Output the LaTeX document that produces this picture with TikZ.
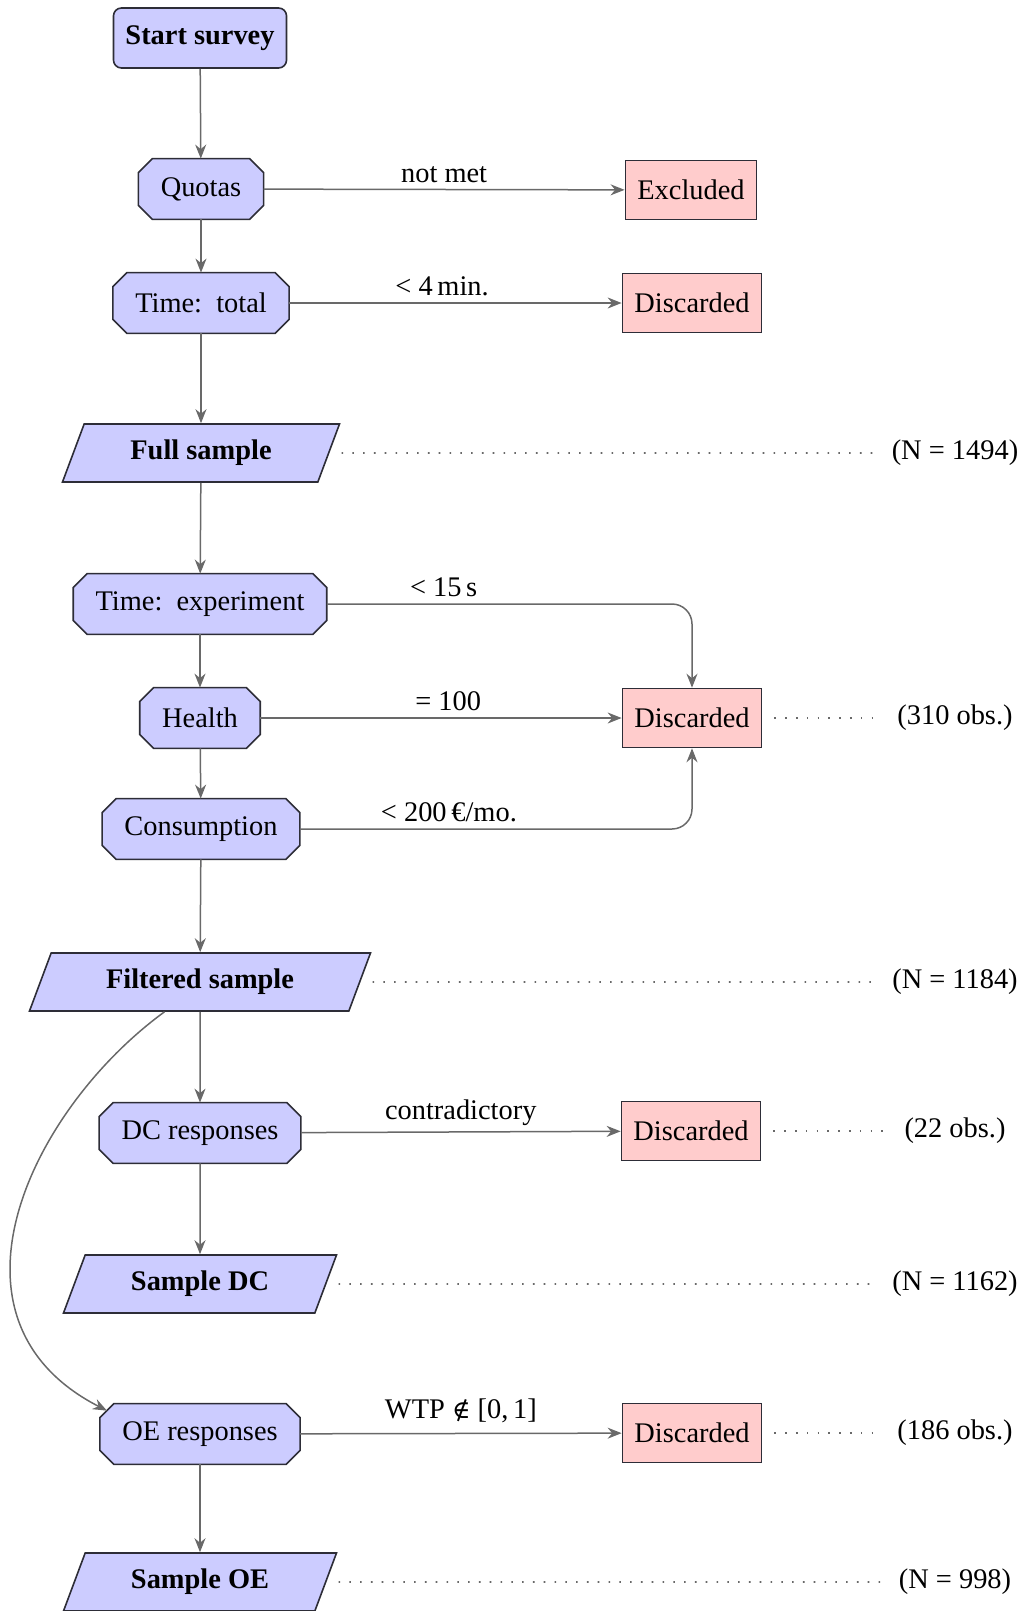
\documentclass[tikz,border=0pt]{standalone}
\usepackage{fontspec}
\setmainfont{Liberation Serif}
\newfontfamily\symfnt{DejaVu Serif}
\usetikzlibrary{shapes.geometric,arrows.meta,backgrounds}
\definecolor{boxblue}{RGB}{204,204,255}
\definecolor{boxred}{RGB}{255,204,204}
\definecolor{edgegray}{RGB}{105,105,105}
\definecolor{rimgray}{RGB}{45,45,55}
\newcommand\octbox[1]{%
  \path[octshape] ([xshift=7pt]#1.north west) -- ([xshift=-7pt]#1.north east)
    -- ([yshift=-7pt]#1.north east) -- ([yshift=7pt]#1.south east)
    -- ([xshift=-7pt]#1.south east) -- ([xshift=7pt]#1.south west)
    -- ([yshift=7pt]#1.south west) -- ([yshift=-7pt]#1.north west) -- cycle;}
\begin{document}
\begin{tikzpicture}[x=0.5pt,y=-0.5pt,
  font=\fontsize{14.2}{17}\selectfont,
  startbox/.style={rectangle, rounded corners=4pt, draw=rimgray, line width=0.8pt, fill=boxblue,
    minimum height=30pt, inner xsep=6pt, font=\fontsize{14.2}{17}\selectfont\bfseries},
  testbox/.style={rectangle, minimum height=30pt, inner xsep=11pt},
  octshape/.style={draw=rimgray, line width=0.8pt, fill=boxblue},
  outbox/.style={rectangle, draw=rimgray, line width=0.8pt, fill=boxred, minimum height=29.5pt, inner xsep=6pt},
  samplebox/.style={trapezium, trapezium left angle=61, trapezium right angle=119, trapezium stretches body,
    draw=rimgray, line width=0.8pt, fill=boxblue, minimum height=29pt, font=\fontsize{14.2}{17}\selectfont\bfseries},
  countlbl/.style={inner sep=2pt},
  arr/.style={draw=edgegray, line width=0.75pt, -{Stealth[length=7pt,width=5.5pt]}},
  dotline/.style={draw=edgegray, line width=0.8pt, dash pattern=on 0.8pt off 4.6pt, shorten <=6pt, shorten >=6pt},
  elbl/.style={above, inner sep=3pt}
]
\useasboundingbox (0,0) rectangle (1026,1611);

% main column
\node[startbox] (start) at (200,38) {Start survey};
\node[testbox] (quotas) at (201,189) {Quotas};
\node[testbox] (ttot) at (201,303) {Time:\ \ total};
\node[samplebox, minimum width=138.5pt] (full) at (201,453) {Full sample};
\node[testbox] (texp) at (200,604) {Time:\ \ experiment};
\node[testbox] (health) at (200,718) {Health};
\node[testbox] (cons) at (201,829) {Consumption};
\node[samplebox, minimum width=170.5pt] (filt) at (200,982) {Filtered sample};
\node[testbox] (dc) at (200,1133) {DC responses};
\node[samplebox, minimum width=136.5pt] (sdc) at (200,1284) {Sample DC};
\node[testbox] (oe) at (200,1434) {OE responses};
\node[samplebox, minimum width=136.5pt] (soe) at (200,1582) {Sample OE};

\begin{pgfonlayer}{background}
  \octbox{quotas}
  \octbox{ttot}
  \octbox{texp}
  \octbox{health}
  \octbox{cons}
  \octbox{dc}
  \octbox{oe}
\end{pgfonlayer}

% exclusion boxes
\node[outbox] (excl) at (691,190) {Excluded};
\node[outbox] (disc1) at (692,303) {Discarded};
\node[outbox] (disc2) at (692,718) {Discarded};
\node[outbox] (disc3) at (691,1131) {Discarded};
\node[outbox] (disc4) at (692,1433) {Discarded};

% counts
\node[countlbl] (n1) at (955,453) {(N = 1494)};
\node[countlbl] (n2) at (955,718) {(310 obs.)};
\node[countlbl] (n3) at (955,982) {(N = 1184)};
\node[countlbl] (n4) at (955,1131) {(22 obs.)};
\node[countlbl] (n5) at (955,1284) {(N = 1162)};
\node[countlbl] (n6) at (955,1433) {(186 obs.)};
\node[countlbl] (n7) at (955,1582) {(N = 998)};

% vertical flow
\draw[arr] (start) -- (quotas);
\draw[arr] (quotas) -- (ttot);
\draw[arr] (ttot) -- (full);
\draw[arr] (full) -- (texp);
\draw[arr] (texp) -- (health);
\draw[arr] (health) -- (cons);
\draw[arr] (cons) -- (filt);
\draw[arr] (filt) -- (dc);
\draw[arr] (dc) -- (sdc);
\draw[arr] (oe) -- (soe);
\coordinate (oecorner) at ([xshift=3.5pt,yshift=-3.5pt]oe.north west);
\draw[arr] (filt.220) .. controls (30,1110) and (-70,1320) .. (oecorner);

% exclusions
\draw[arr] (quotas) -- node[elbl] {not met} (excl);
\draw[arr] (ttot) -- node[elbl, pos=0.46] {< 4\,min.} (disc1);
\draw[arr, rounded corners=10pt] (texp.east) -| node[elbl, pos=0.16] {< 15\,s} (disc2.north);
\draw[arr] (health) -- node[elbl, pos=0.52] {= 100} (disc2);
\draw[arr, rounded corners=10pt] (cons.east) -| node[elbl, pos=0.19] {< 200\,€/mo.} (disc2.south);
\draw[arr] (dc) -- node[elbl] {contradictory} (disc3);
\draw[arr] (oe) -- node[elbl, yshift=2pt] {WTP {\symfnt\fontsize{12.5}{15}\selectfont ∉} [0,\,1]} (disc4);

% dotted count leaders
\draw[dotline] (full.east) -- (n1.west);
\draw[dotline] (disc2.east) -- (n2.west);
\draw[dotline] (filt.east) -- (n3.west);
\draw[dotline] (disc3.east) -- (n4.west);
\draw[dotline] (sdc.east) -- (n5.west);
\draw[dotline] (disc4.east) -- (n6.west);
\draw[dotline] (soe.east) -- (n7.west);
\end{tikzpicture}
\end{document}
